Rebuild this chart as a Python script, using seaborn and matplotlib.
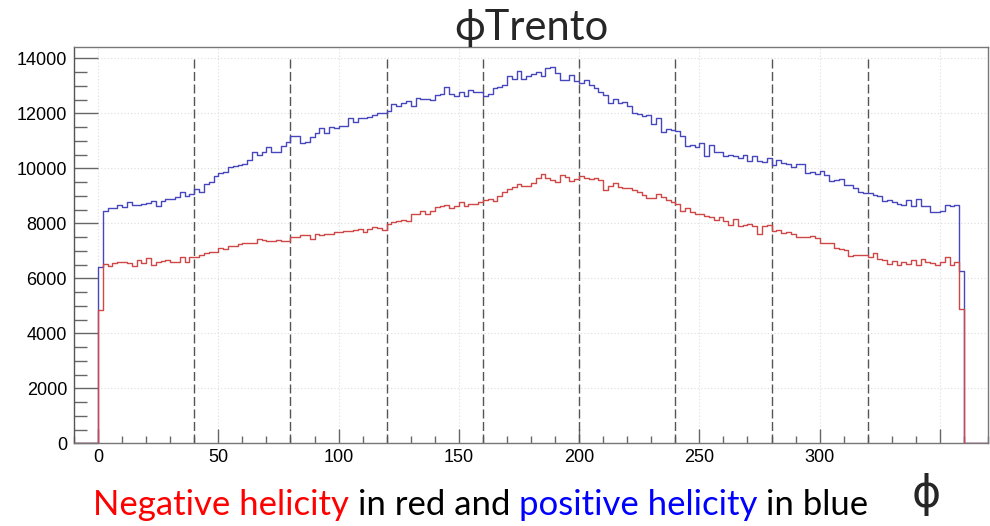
import numpy as np
import pandas as pd
import matplotlib
matplotlib.use("Agg")
import matplotlib.pyplot as plt
from matplotlib.ticker import MultipleLocator, FixedLocator, FixedFormatter
import seaborn as sns

# phi Trento distribution, 2-degree bins from 0 to 360 (counts per bin)
positive_counts = [
    6400, 8450, 8540, 8560, 8680, 8580, 8760, 8660, 8680, 8710,
    8740, 8800, 8640, 8820, 8880, 8900, 8940, 9150, 9000, 9080,
    9240, 9150, 9430, 9510, 9730, 9830, 9880, 10030, 10100, 10110,
    10150, 10310, 10580, 10480, 10600, 10770, 10600, 10610, 10800, 10970,
    11190, 11190, 10920, 10970, 11125, 11280, 11450, 11300, 11490, 11450,
    11525, 11550, 11840, 11700, 11820, 11820, 11850, 11940, 12010, 12010,
    12100, 12340, 12280, 12360, 12460, 12280, 12550, 12520, 12520, 12500,
    12680, 12700, 12945, 12700, 12640, 12790, 12620, 12840, 12790, 12760,
    12640, 12700, 12920, 12960, 13030, 13350, 13250, 13550, 13250, 13370,
    13430, 13515, 13345, 13650, 13670, 13470, 13210, 13210, 13390, 13190,
    13100, 13225, 13030, 12910, 12760, 12670, 12360, 12520, 12370, 12420,
    12280, 12010, 11975, 11890, 11950, 11610, 11830, 11330, 11440, 11400,
    11370, 11190, 10820, 10850, 10760, 10920, 10430, 10850, 10580, 10600,
    10460, 10480, 10430, 10360, 10480, 10275, 10460, 10275, 10240, 10360,
    10120, 10310, 10190, 10150, 10030, 10150, 10150, 9830, 9850, 9790,
    9910, 9750, 9550, 9590, 9610, 9390, 9390, 9270, 9150, 9120,
    9100, 9030, 9000, 8820, 8860, 8760, 8700, 8660, 8860, 8640,
    8880, 8640, 8620, 8420, 8420, 8460, 8660, 8640, 8660, 6270,
]

negative_counts = [
    4850, 6520, 6460, 6560, 6580, 6580, 6560, 6430, 6670, 6560,
    6730, 6480, 6580, 6620, 6670, 6600, 6580, 6760, 6600, 6760,
    6760, 6840, 6920, 6960, 6940, 7120, 7060, 7180, 7160, 7250,
    7280, 7280, 7300, 7430, 7400, 7370, 7370, 7400, 7370, 7350,
    7520, 7520, 7580, 7590, 7430, 7600, 7570, 7610, 7610, 7670,
    7690, 7730, 7730, 7770, 7790, 7670, 7790, 7850, 7820, 7765,
    7970, 8030, 8070, 8130, 8070, 8330, 8330, 8460, 8330, 8460,
    8580, 8640, 8660, 8550, 8640, 8760, 8640, 8700, 8700, 8760,
    8860, 8880, 8820, 9000, 9150, 9250, 9330, 9430, 9370, 9370,
    9450, 9640, 9790, 9640, 9590, 9490, 9750, 9670, 9545, 9610,
    9730, 9640, 9610, 9640, 9590, 9220, 9340, 9465, 9305, 9280,
    9270, 9210, 9150, 9030, 8920, 8920, 9060, 8940, 8830, 8760,
    8700, 8460, 8540, 8400, 8340, 8340, 8280, 8220, 8130, 8220,
    8070, 7950, 8160, 7910, 7950, 7970, 7910, 7610, 7890, 7950,
    7730, 7770, 7650, 7670, 7610, 7490, 7490, 7490, 7550, 7450,
    7280, 7280, 7270, 7100, 7060, 7040, 6800, 6840, 6850, 6840,
    6760, 6910, 6700, 6670, 6510, 6630, 6490, 6610, 6510, 6670,
    6480, 6700, 6600, 6550, 6480, 6580, 6760, 6480, 6580, 4880,
]

# Histogram axis: -10 .. 370 in 2-degree bins (data lives in 0 .. 360)
axis_range = (-10, 370)
bin_width = 2
data_range = (0, 360)

x_tick_values = [0, 50, 100, 150, 200, 250, 300, 350]
x_tick_labels = ["0", "50", "100", "150", "200", "250", "300", ""]
y_tick_values = [0, 2000, 4000, 6000, 8000, 10000, 12000, 14000]
sector_edges = [40, 80, 120, 160, 200, 240, 280, 320]

title_text = "\u03d5Trento"
axis_symbol = "\u03d5"
caption_parts = [
    ("Negative helicity", "#ff0000"),
    ("in red and", "#000000"),
    ("positive helicity", "#0000ff"),
    ("in blue", "#000000"),
]

# ---------------------------------------------------------------------------
centers = np.arange(data_range[0], data_range[1], bin_width) + bin_width / 2
df = pd.DataFrame({
    "phi": np.concatenate([centers, centers]),
    "count": np.concatenate([positive_counts, negative_counts]).astype(float),
    "helicity": ["positive"] * len(centers) + ["negative"] * len(centers),
})

sns.set_style("white")
plt.rcParams["font.family"] = ["Liberation Sans", "DejaVu Sans"]

fig = plt.figure(figsize=(9.9, 5.26), dpi=100)
ax = fig.add_axes([74 / 990, 1 - 443.3 / 526, (988 - 74) / 990, (443.3 - 47.3) / 526])

line_colors = {"positive": "#4646bd", "negative": "#cf4747"}
for hel in ["positive", "negative"]:
    sub = df[df["helicity"] == hel]
    sns.histplot(data=sub, x="phi", weights="count", binwidth=bin_width,
                 binrange=axis_range, element="step", fill=False,
                 color=line_colors[hel], linewidth=1.0, ax=ax, zorder=3)

ax.vlines(sector_edges, 0, 14050, colors="#555555", linewidth=1.0,
          linestyles=(0, (6.5, 2.5)), zorder=2)

ax.set_xlim(*axis_range)
ax.set_ylim(0, 14400)
ax.set_xlabel("")
ax.set_ylabel("")

ax.xaxis.set_major_locator(FixedLocator(x_tick_values))
ax.xaxis.set_major_formatter(FixedFormatter(x_tick_labels))
ax.xaxis.set_minor_locator(MultipleLocator(10))
ax.yaxis.set_major_locator(FixedLocator(y_tick_values))
ax.yaxis.set_minor_locator(MultipleLocator(500))

ax.grid(True, which="major", linestyle=(0, (1, 2)), color="#dddddd", linewidth=0.8, zorder=0)
ax.set_axisbelow(True)

ax.tick_params(axis="both", which="both", direction="in", colors="#666666",
               labelcolor="black", labelsize=13, width=1.0,
               bottom=True, left=True, top=False, right=False)
ax.tick_params(axis="y", which="major", length=17, pad=5)
ax.tick_params(axis="y", which="minor", length=9.5)
ax.tick_params(axis="x", which="major", length=10, pad=4)
ax.tick_params(axis="x", which="minor", length=5)
for side in ["left", "right", "top", "bottom"]:
    ax.spines[side].set_color("#777777")
    ax.spines[side].set_linewidth(1.0)
ax.spines["left"].set_color("#555555")

# Title
fig.text(531 / 990, 1 - 28 / 526, title_text, ha="center", va="center",
         fontsize=30, family=["Lato", "DejaVu Sans"])

# Axis symbol at bottom right
fig.text(926 / 990, 1 - 494 / 526, axis_symbol, ha="center", va="center",
         fontsize=32, family=["DejaVu Sans"])

# Coloured caption, laid out word group by word group
cap_font = dict(fontsize=25, family=["Lato", "DejaVu Sans"])
renderer = fig.canvas.get_renderer()


def text_width(s):
    t = fig.text(0, 0, s, **cap_font)
    w = t.get_window_extent(renderer=renderer).width
    t.remove()
    return w


space_w = text_width("a a") - text_width("aa")
x_px = 93.0
baseline = 1 - 515 / 526
for text, color in caption_parts:
    fig.text(x_px / 990, baseline, text, color=color, ha="left",
             va="baseline", **cap_font)
    x_px += text_width(text) + space_w

fig.savefig("out.png", dpi=100)
